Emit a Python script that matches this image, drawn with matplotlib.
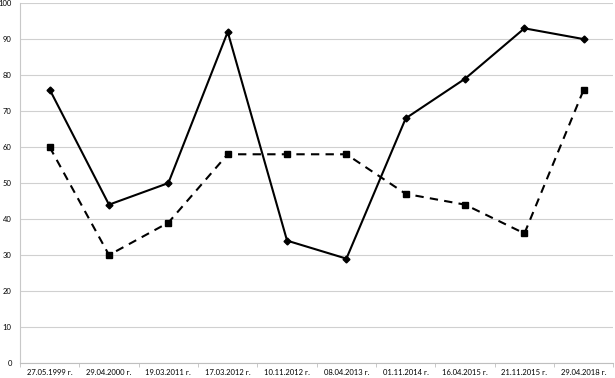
import matplotlib
matplotlib.use('Agg')
import matplotlib.pyplot as plt
import numpy as np

# Даты и значения двух рядов
dates = ['27.05.1999 г.', '29.04.2000 г.', '19.03.2011 г.', '17.03.2012 г.',
         '10.11.2012 г.', '08.04.2013 г.', '01.11.2014 г.', '16.04.2015 г.',
         '21.11.2015 г.', '29.04.2018 г.']
series_solid = [76, 44, 50, 92, 34, 29, 68, 79, 93, 90]
series_dashed = [60, 30, 39, 58, 58, 58, 47, 44, 36, 76]

plt.rcParams['font.family'] = ['Lato', 'DejaVu Sans']

fig = plt.figure(figsize=(6.15, 3.78), dpi=100)
ax = fig.add_axes([0.0325, 0.0397, 0.965, 0.952])

x = np.arange(len(dates))
ax.plot(x, series_solid, color='black', linewidth=1.5, marker='D', markersize=3.5, zorder=3)
ax.plot(x, series_dashed, color='black', linewidth=1.5, linestyle=(0, (4, 3)),
        marker='s', markersize=4.5, zorder=3)

ax.set_xlim(-0.5, len(dates) - 0.5)
ax.set_ylim(0, 100)
ax.set_yticks(range(0, 101, 10))
ax.set_xticks(x)
ax.set_xticklabels(dates, fontsize=5.5)
ax.set_xticks(np.arange(-0.5, len(dates), 1), minor=True)
ax.tick_params(axis='x', which='major', length=0, pad=4)
ax.tick_params(axis='x', which='minor', length=3, color='#bfbfbf')
ax.tick_params(axis='y', length=0, labelsize=5.5, pad=6)

ax.grid(axis='y', color='#d0d0d0', linewidth=0.8)
ax.set_axisbelow(True)
for s in ['top', 'right']:
    ax.spines[s].set_visible(False)
ax.spines['left'].set_color('#c8c8c8')
ax.spines['bottom'].set_color('#bfbfbf')

fig.savefig('out.png', dpi=100)
